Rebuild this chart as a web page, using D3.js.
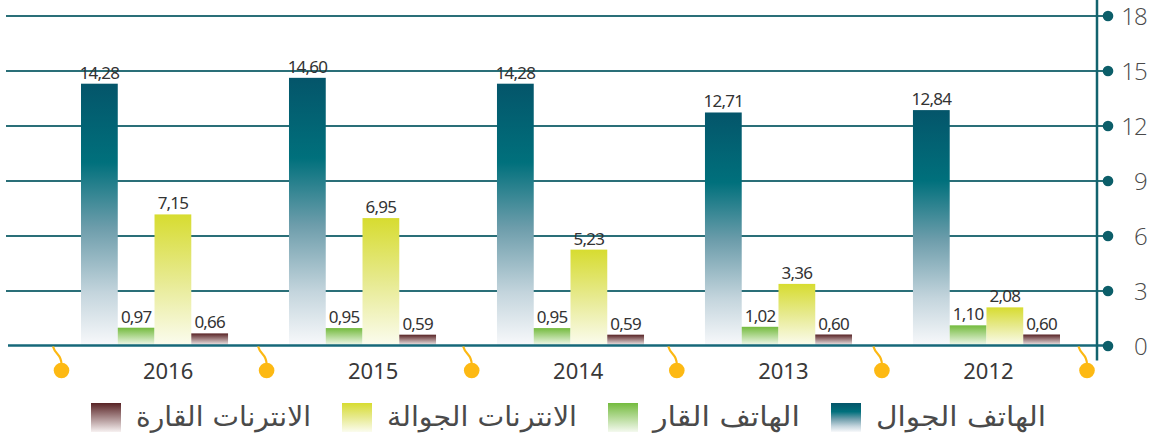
<!DOCTYPE html>
<html>
<head>
<meta charset="utf-8">
<script src="https://cdn.jsdelivr.net/npm/d3@7"></script>
<style>
  html, body { margin: 0; padding: 0; background: #ffffff; }
  svg { display: block; }
</style>
</head>
<body>
<svg id="chart" width="1158" height="436"></svg>
<script>
// Years (left to right) and the four series, in legend order (right to left)
const years = ["2016", "2015", "2014", "2013", "2012"];
const seriesNames = ["الهاتف الجوال", "الهاتف القار", "الانترنات الجوالة", "الانترنات القارة"];
const mobilePhone    = [14.28, 14.60, 14.28, 12.71, 12.84];
const fixedPhone     = [0.97, 0.95, 0.95, 1.02, 1.10];
const mobileInternet = [7.15, 6.95, 5.23, 3.36, 2.08];
const fixedInternet  = [0.66, 0.59, 0.59, 0.60, 0.60];
const yTicks = [0, 3, 6, 9, 12, 15, 18];

const seriesValues = [mobilePhone, fixedPhone, mobileInternet, fixedInternet];
const seriesKeys = ["mobilePhone", "fixedPhone", "mobileInternet", "fixedInternet"];

// Vertical fade for each series: strong colour at the top, near white at the base
const gradientStops = [
  [[0, "#04556a"], [0.3, "#00707c"], [0.55, "#6d9dab"], [0.8, "#c4d5dd"], [1, "#f8f9fb"]],
  [[0, "#74bb3e"], [1, "#f4f9ef"]],
  [[0, "#d7dc30"], [0.5, "#e7ea90"], [1, "#fbfcef"]],
  [[0, "#582325"], [1, "#f7f1f1"]]
];
// Legend label widths, so the wide Arabic labels keep their spread
const legendLabelWidths = [170, 147, 190, 175];

const svg = d3.select("#chart");
const defs = svg.append("defs");
seriesKeys.forEach((k, i) => {
  const g = defs.append("linearGradient")
    .attr("id", "grad-" + k)
    .attr("x1", 0).attr("y1", 0).attr("x2", 0).attr("y2", 1);
  gradientStops[i].forEach(([o, c]) => g.append("stop").attr("offset", o).attr("stop-color", c));
});

const numFont = "'Noto Sans', 'DejaVu Sans', sans-serif";
const arFont = "'DejaVu Sans', 'Noto Sans', sans-serif";

// Scales
const y = d3.scaleLinear().domain([0, 18]).range([345.5, 15.5]);
const x0 = d3.scaleBand().domain(years).range([81, 1060]).paddingInner(0.293).paddingOuter(0);
const x1 = d3.scaleBand().domain(seriesKeys).range([0, x0.bandwidth()]).padding(0);
// Category bands between the gold markers
const xCat = d3.scaleBand().domain(years).range([61.5, 1087]).padding(0);

const axisX = 1108;

// Horizontal gridlines (ticks of a left axis stretched across the plot)
const grid = svg.append("g")
  .attr("transform", `translate(${axisX},0)`)
  .call(d3.axisLeft(y).tickValues(yTicks).tickSize(axisX - 6).tickFormat(""));
grid.select(".domain").remove();
grid.selectAll(".tick line")
  .attr("stroke", "#2a6f78")
  .attr("stroke-width", 1.1)
  .attr("shape-rendering", "crispEdges");
grid.selectAll(".tick").filter(d => d === 0).remove();

// Bars
const groups = svg.append("g").selectAll("g")
  .data(years)
  .join("g")
  .attr("transform", d => `translate(${x0(d)},0)`);

groups.selectAll("rect")
  .data((yr, yi) => seriesKeys.map((k, si) => ({ key: k, value: seriesValues[si][yi] })))
  .join("rect")
  .attr("x", d => x1(d.key))
  .attr("width", x1.bandwidth())
  .attr("y", d => y(d.value))
  .attr("height", d => y(0) - y(d.value))
  .attr("fill", d => `url(#grad-${d.key})`);

// Value labels above bars
groups.selectAll("text")
  .data((yr, yi) => seriesKeys.map((k, si) => ({ key: k, value: seriesValues[si][yi] })))
  .join("text")
  .attr("x", d => x1(d.key) + x1.bandwidth() / 2)
  .attr("y", d => y(d.value) - 5)
  .attr("text-anchor", "middle")
  .attr("font-family", numFont)
  .attr("font-size", 17)
  .attr("letter-spacing", -0.8)
  .attr("fill", "#333333")
  .text(d => d.value.toFixed(2).replace(".", ","));

// Baseline
svg.append("line")
  .attr("x1", 8).attr("x2", axisX)
  .attr("y1", y(0)).attr("y2", y(0))
  .attr("stroke", "#16687a")
  .attr("stroke-width", 2.5);

// Vertical axis line
svg.append("line")
  .attr("x1", 1097).attr("x2", 1097)
  .attr("y1", 0).attr("y2", y(0) + 15)
  .attr("stroke", "#12636e")
  .attr("stroke-width", 2.5);

// Right axis: dots and labels
const yAxis = svg.append("g")
  .attr("transform", `translate(${axisX},0)`)
  .call(d3.axisRight(y).tickValues(yTicks).tickSize(0).tickPadding(0));
yAxis.select(".domain").remove();
yAxis.selectAll(".tick").append("circle")
  .attr("r", 5.3)
  .attr("fill", "#0c5e69");
yAxis.selectAll(".tick text")
  .attr("x", 39)
  .attr("text-anchor", "end")
  .attr("dy", "0.36em")
  .attr("font-family", "'Open Sans', 'Noto Sans', sans-serif")
  .attr("font-weight", 300)
  .attr("font-size", 24)
  .attr("letter-spacing", -0.8)
  .attr("fill", "#4a4a4a");

// Gold markers at category boundaries with curled stems
const boundaries = years.map(d => xCat(d)).concat([xCat(years[years.length - 1]) + xCat.step()]);
const marker = svg.append("g").selectAll("g")
  .data(boundaries)
  .join("g")
  .attr("transform", d => `translate(${d},0)`);
const baseY = y(0);
marker.append("path")
  .attr("d", `M-8.5,${baseY + 1} C-6,${baseY + 10} 0,${baseY + 8} 0,${baseY + 19}`)
  .attr("fill", "none")
  .attr("stroke", "#fcb813")
  .attr("stroke-width", 2.2);
marker.append("circle")
  .attr("cy", baseY + 25)
  .attr("r", 7.8)
  .attr("fill", "#fdb913");

// Year labels
svg.append("g").selectAll("text")
  .data(years)
  .join("text")
  .attr("x", d => xCat(d) + xCat.bandwidth() / 2 + 4)
  .attr("y", 379)
  .attr("text-anchor", "middle")
  .attr("font-family", numFont)
  .attr("font-size", 22)
  .attr("fill", "#383838")
  .text(d => d);

// Legend, laid out right to left: label then swatch to its left
const legend = svg.append("g");
let right = 1046;
seriesNames.forEach((name, i) => {
  const w = legendLabelWidths[i];
  legend.append("text")
    .attr("x", right - w)
    .attr("y", 426)
    .attr("font-family", arFont)
    .attr("font-size", 27)
    .attr("textLength", w)
    .attr("lengthAdjust", "spacingAndGlyphs")
    .attr("fill", "#4a4a4a")
    .text(name);
  const swRight = right - w - 15;
  legend.append("rect")
    .attr("x", swRight - 30)
    .attr("y", 403)
    .attr("width", 30)
    .attr("height", 29)
    .attr("fill", `url(#grad-${seriesKeys[i]})`);
  right = swRight - 30 - 31;
});
</script>
</body>
</html>
